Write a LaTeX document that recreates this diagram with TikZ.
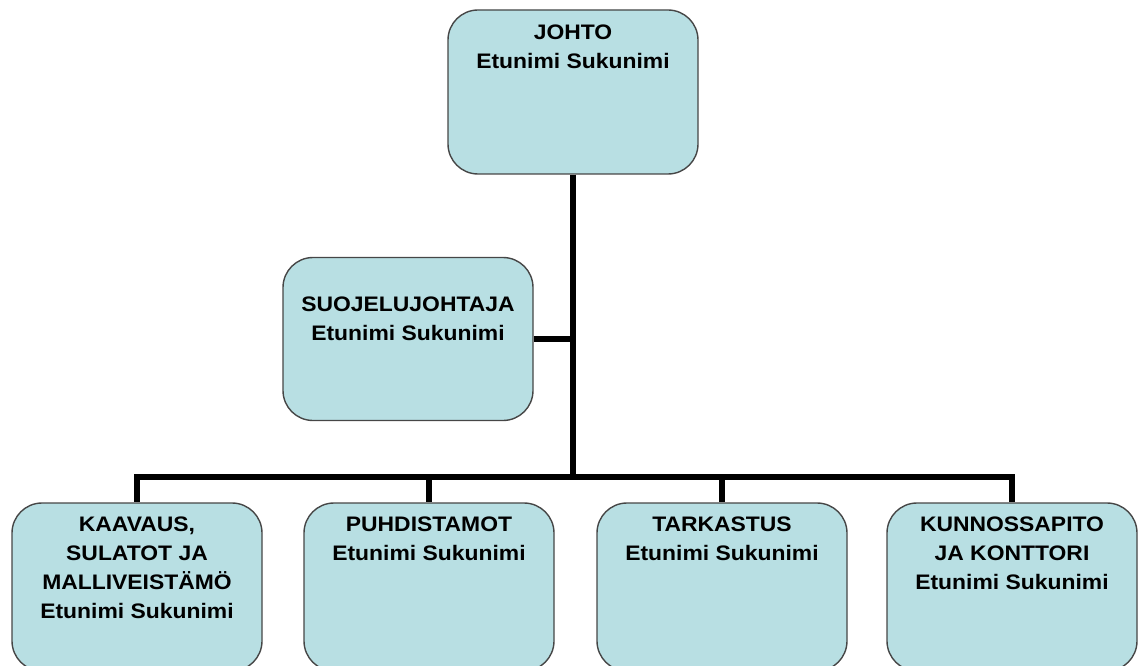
\documentclass[tikz,border=0pt]{standalone}
\usepackage{fontspec}
\setmainfont{Liberation Sans}
\newfontfamily\unitfont[FakeStretch=1.09]{Liberation Sans}
\usetikzlibrary{positioning,calc}

\definecolor{boxfill}{RGB}{184,223,227}
\definecolor{boxline}{RGB}{70,70,70}

\begin{document}
\begin{tikzpicture}[x=1pt, y=-1pt,
    unit/.style={draw=boxline, line width=1.4pt, fill=boxfill, rounded corners=30pt,
      minimum width=250pt, minimum height=164pt, inner sep=0pt},
    unittext/.style={font=\unitfont\fontsize{21}{29}\selectfont\bfseries, align=center, inner sep=0pt, anchor=north},
    link/.style={line width=5.5pt, line join=miter}]
    \useasboundingbox (0,0) rectangle (1138,666);

    % Top unit
    \node[unit] (Johto) at (573,92) {};
    \node[unittext] (JohtoText) at ($(Johto.north)+(0,15)$) {JOHTO\\Etunimi Sukunimi};

    % Staff unit at the side
    \node[unit, minimum height=163pt] (Suojelu) at (408,339) {};
    \node[unittext] (SuojeluText) at ($(Suojelu.north)+(0,40)$) {SUOJELUJOHTAJA\\Etunimi Sukunimi};

    % Departments
    \node[unit, minimum height=168pt] (Kaavaus) at (137,587) {};
    \node[unittext] (KaavausText) at ($(Kaavaus.north)+(0,14)$) {KAAVAUS,\\SULATOT JA\\MALLIVEISTÄMÖ\\Etunimi Sukunimi};
    \node[unit, minimum height=168pt] (Puhdistamot) at (429,587) {};
    \node[unittext] (PuhdistamotText) at ($(Puhdistamot.north)+(0,14)$) {PUHDISTAMOT\\Etunimi Sukunimi};
    \node[unit, minimum height=168pt] (Tarkastus) at (722,587) {};
    \node[unittext] (TarkastusText) at ($(Tarkastus.north)+(0,14)$) {TARKASTUS\\Etunimi Sukunimi};
    \node[unit, minimum height=168pt] (Kunnossapito) at (1012,587) {};
    \node[unittext] (KunnossapitoText) at ($(Kunnossapito.north)+(0,14)$) {KUNNOSSAPITO\\JA KONTTORI\\Etunimi Sukunimi};

    % Connectors
    \coordinate (Haara) at (573,477);
    \draw[link] (Johto.south) -- (Haara);
    \draw[link] (Suojelu.east) -- (Suojelu.east -| Johto.south);
    \draw[link] (Haara) -| (Kaavaus.north);
    \draw[link] (Haara) -| (Puhdistamot.north);
    \draw[link] (Haara) -| (Tarkastus.north);
    \draw[link] (Haara) -| (Kunnossapito.north);
\end{tikzpicture}
\end{document}
